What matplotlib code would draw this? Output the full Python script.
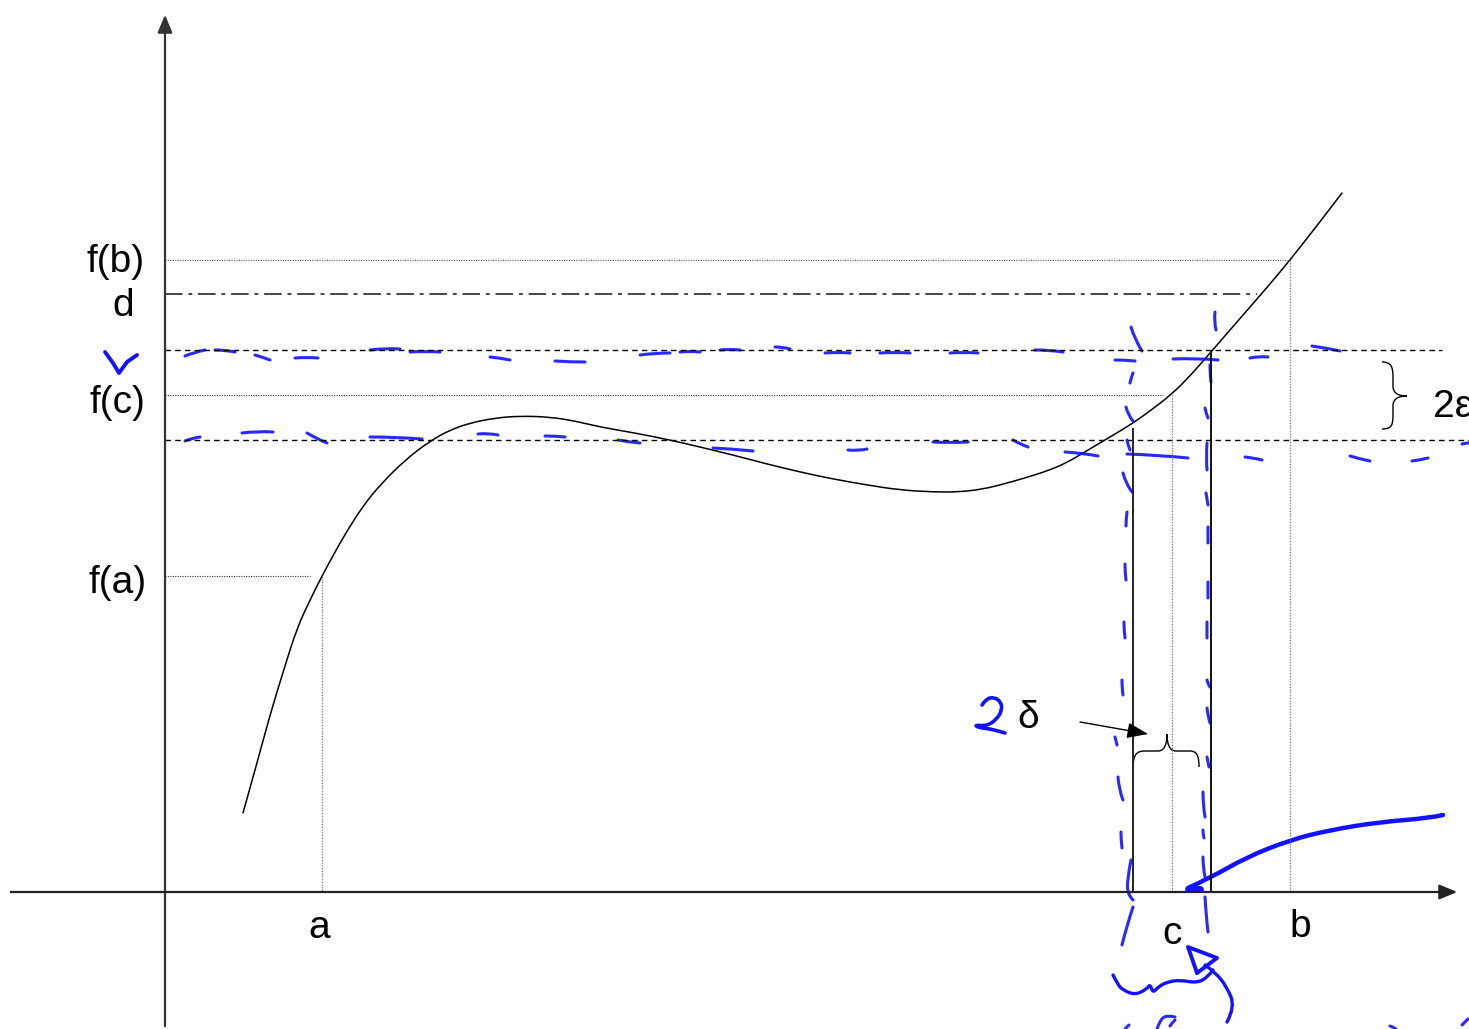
import matplotlib
matplotlib.use("Agg")
import matplotlib.pyplot as plt
from matplotlib.path import Path
from matplotlib.patches import PathPatch

plt.rcParams['font.family'] = ['Liberation Sans', 'DejaVu Sans']

# picture coordinates (pixels, y grows downwards)
W, H = 1469, 1029
x_axis_y = 892
y_axis_x = 165

# the black curve f(x)
curve_x = [243, 257, 270, 284, 297, 310, 322, 335, 347, 363, 380, 405, 430, 450, 470, 495,
           520, 550, 575, 600, 635, 670, 700, 733, 767, 800, 833, 867, 900, 933, 960, 983,
           1000, 1025, 1050, 1068, 1083, 1105, 1120, 1133, 1150, 1172, 1190, 1211, 1230, 1250,
           1270, 1290, 1316, 1342]
curve_y = [813, 763, 715, 669, 628, 600, 576, 552, 531, 506, 485, 460, 441, 430, 423, 418,
           416, 417, 421, 427, 433, 440, 447, 455, 464, 472, 479, 485, 490, 492, 492, 489,
           485, 478, 470, 462, 453, 440, 431, 423, 411, 394, 376, 352, 330, 307, 284, 260, 227, 193]

# points on the x axis and their f values
pt_names = ["a", "c", "b"]
pt_x = [322, 1172, 1290]
pt_fy = [576, 395, 260]
d_y = 294
eps_hi, eps_lo = 350, 440
delta_lo, delta_hi = 1133, 1211

y_labels = ["f(b)", "d", "f(c)", "f(a)"]
y_label_pos = [(116, 262), (123, 306), (117, 403), (118, 583)]
x_label_pos = [(319, 928), (1172, 934), (1300, 927)]

# handwritten blue strokes
blue_dash_h = [
    [(185, 356), (195, 352), (205, 350)], [(215, 350), (225, 350), (235, 352)],
    [(255, 355), (262, 357), (270, 360)], [(295, 358), (306, 357), (318, 358)],
    [(370, 350), (385, 348), (400, 349)], [(410, 352), (425, 351), (440, 352)],
    [(490, 357), (500, 358), (510, 360)], [(555, 361), (570, 362), (585, 362)],
    [(640, 355), (655, 353), (670, 353)], [(680, 352), (690, 351), (700, 352)],
    [(720, 350), (730, 349), (740, 350)], [(775, 347), (783, 347), (790, 349)],
    [(825, 353), (838, 352), (850, 353)], [(880, 353), (895, 352), (910, 353)],
    [(950, 353), (964, 352), (978, 353)], [(1035, 350), (1050, 350), (1063, 352)],
    [(1115, 360), (1125, 360), (1135, 361)], [(1173, 359), (1195, 358), (1218, 360)],
    [(1250, 358), (1260, 356), (1268, 357)], [(1312, 346), (1326, 348), (1340, 351)],
    [(185, 441), (192, 438), (200, 437)], [(242, 433), (258, 431), (273, 432)],
    [(307, 433), (317, 439), (327, 443)], [(370, 437), (396, 437), (422, 439)],
    [(478, 434), (488, 433), (498, 435)], [(545, 436), (555, 436), (565, 437)],
    [(618, 440), (629, 442), (640, 443)], [(713, 448), (733, 449), (753, 451)],
    [(848, 450), (858, 451), (867, 449)], [(933, 442), (950, 443), (968, 442)],
    [(1013, 440), (1020, 444), (1028, 447)], [(1065, 452), (1082, 453), (1098, 456)],
    [(1127, 454), (1158, 455), (1188, 458)], [(1245, 457), (1254, 458), (1262, 460)],
    [(1350, 456), (1360, 459), (1370, 461)], [(1412, 461), (1420, 460), (1428, 458)],
    [(1462, 444), (1466, 443), (1469, 443)],
]
blue_dash_v = [
    [(1131, 327), (1135, 340), (1142, 351)], [(1133, 373), (1131, 378), (1130, 383)],
    [(1126, 407), (1128, 415), (1133, 421)], [(1127, 440), (1128, 445), (1130, 450)],
    [(1123, 473), (1126, 484), (1132, 492)], [(1127, 512), (1126, 520), (1126, 526)],
    [(1125, 564), (1125, 572), (1126, 580)], [(1124, 622), (1124, 630), (1125, 638)],
    [(1122, 680), (1122, 688), (1123, 695)], [(1115, 737), (1116, 741), (1117, 745)],
    [(1118, 777), (1119, 790), (1123, 800)], [(1121, 832), (1121, 840), (1122, 848)],
    [(1131, 860), (1127, 880), (1128, 895), (1133, 900)],
    [(1133, 907), (1127, 925), (1122, 945)],
    [(1215, 312), (1214, 322), (1216, 330)], [(1210, 365), (1210, 374), (1211, 382)],
    [(1205, 408), (1206, 413), (1208, 418)], [(1207, 443), (1206, 456), (1207, 470)],
    [(1206, 493), (1207, 499), (1208, 505)], [(1208, 527), (1208, 535), (1208, 543)],
    [(1208, 582), (1208, 590), (1208, 598)], [(1207, 622), (1207, 630), (1207, 638)],
    [(1207, 680), (1208, 684), (1210, 687)], [(1207, 708), (1208, 716), (1210, 723)],
    [(1207, 757), (1208, 762), (1209, 767)], [(1203, 792), (1203, 805), (1205, 817)],
    [(1203, 830), (1203, 834), (1204, 838)], [(1203, 857), (1203, 867), (1205, 877)],
    [(1205, 897), (1206, 915), (1208, 932)],
]
blue_check = [(105, 352), (113, 363), (119, 373), (127, 362), (137, 355)]
blue_two = [(982, 705), (986, 699), (994, 697), (1001, 702), (1002, 710), (997, 719),
            (987, 726), (974, 725), (980, 728), (992, 729), (1005, 733)]
blue_swoop = [(1188, 888), (1210, 878), (1247, 857), (1290, 840), (1330, 830),
              (1380, 822), (1430, 818), (1443, 815)]
blue_squiggle = [(1113, 975), (1118, 985), (1123, 990), (1135, 995), (1147, 989),
                 (1150, 984), (1153, 993), (1158, 987), (1167, 982), (1180, 980),
                 (1197, 983), (1208, 977), (1213, 970)]
blue_arrow = [(1197, 973), (1188, 947), (1217, 958), (1197, 973)]
blue_tail = [(1205, 965), (1215, 972), (1227, 987), (1235, 1007), (1227, 1022)]
blue_bits = [[(1157, 1029), (1160, 1020), (1167, 1015), (1175, 1017)],
             [(1170, 1026), (1172, 1023), (1175, 1020)], [(1125, 1029), (1127, 1027), (1129, 1025)],
             [(1390, 1026), (1393, 1027), (1396, 1029)], [(1462, 1025), (1465, 1022), (1468, 1019)]]

BLUE = "#1212ff"


def smooth_path(pts):
    """quadratic spline through the midpoints of the given points"""
    if len(pts) == 2:
        return Path(pts, [Path.MOVETO, Path.LINETO])
    verts = [pts[0]]
    codes = [Path.MOVETO]
    for i in range(1, len(pts) - 1):
        p, q = pts[i], pts[i + 1]
        end = q if i == len(pts) - 2 else ((p[0] + q[0]) / 2, (p[1] + q[1]) / 2)
        verts += [p, end]
        codes += [Path.CURVE3, Path.CURVE3]
    return Path(verts, codes)


def draw_smooth(ax, pts, **kw):
    ax.add_patch(PathPatch(smooth_path(pts), fill=False, capstyle="round",
                           joinstyle="round", **kw))


fig = plt.figure(figsize=(W / 100, H / 100), dpi=100)
ax = fig.add_axes([0, 0, 1, 1])
ax.set_xlim(0, W)
ax.set_ylim(H, 0)
ax.axis("off")

# axes with arrows
ax.annotate("", xy=(y_axis_x, 12), xytext=(y_axis_x, H),
            arrowprops=dict(arrowstyle="-|>,head_length=0.6,head_width=0.25",
                            lw=1.6, color="#333333", mutation_scale=18))
ax.annotate("", xy=(1460, x_axis_y), xytext=(8, x_axis_y),
            arrowprops=dict(arrowstyle="-|>,head_length=0.6,head_width=0.25",
                            lw=1.6, color="#222222", mutation_scale=18))

# the function
draw_smooth(ax, list(zip(curve_x, curve_y)), edgecolor="black", lw=1.1)

# dotted guides f(a), f(c), f(b)
ax.plot([y_axis_x, 310], [pt_fy[0], pt_fy[0]], ls=(0, (1, 1.2)), color="#333333", lw=0.8)
ax.plot([y_axis_x, 1163], [pt_fy[1], pt_fy[1]], ls=(0, (1, 1.2)), color="#333333", lw=0.8)
ax.plot([y_axis_x, pt_x[2]], [pt_fy[2], pt_fy[2]], ls=(0, (1, 1.2)), color="#555555", lw=0.8)
for x, fy in zip(pt_x, pt_fy):
    ax.plot([x, x], [fy, x_axis_y], ls=(0, (1, 1.2)), color="#777777", lw=0.9)

# d level and the epsilon band
ax.plot([y_axis_x, 1257], [d_y, d_y], ls=(0, (9, 3, 2, 3)), color="#444444", lw=1.4)
ax.plot([y_axis_x, 1442], [eps_hi, eps_hi], ls=(0, (4, 3)), color="black", lw=1.0)
ax.plot([y_axis_x, W], [eps_lo, eps_lo], ls=(0, (4, 3)), color="black", lw=1.0)

# delta interval
ax.plot([delta_lo, delta_lo], [429, x_axis_y], color="#222222", lw=1.4)
ax.plot([delta_hi, delta_hi], [351, x_axis_y], color="#111111", lw=1.4)

# braces
eps_brace = [(1382, 362), (1392, 362), (1393, 368), (1393, 378), (1393, 386),
             (1393, 393), (1398, 396), (1407, 396), (1398, 396), (1393, 399), (1393, 406),
             (1393, 414), (1393, 425), (1392, 429), (1382, 429)]
brace_codes = [Path.MOVETO, Path.CURVE4, Path.CURVE4, Path.CURVE4, Path.LINETO,
               Path.CURVE4, Path.CURVE4, Path.CURVE4, Path.CURVE4, Path.CURVE4, Path.CURVE4,
               Path.LINETO, Path.CURVE4, Path.CURVE4, Path.CURVE4]
ax.add_patch(PathPatch(Path(eps_brace, brace_codes), fill=False, color="black", lw=1.0))

del_brace = [(1133, 769), (1133, 755), (1136, 751), (1145, 751), (1158, 751),
             (1164, 751), (1167, 745), (1167, 734), (1167, 745), (1170, 751), (1176, 751),
             (1190, 751), (1197, 751), (1199, 756), (1199, 767)]
ax.add_patch(PathPatch(Path(del_brace, brace_codes), fill=False, color="black", lw=1.0))

# arrow to the delta interval
ax.annotate("", xy=(1148, 734), xytext=(1080, 722),
            arrowprops=dict(arrowstyle="-|>,head_length=0.8,head_width=0.3",
                            lw=1.0, color="black", mutation_scale=16, shrinkA=0, shrinkB=0))

# labels
for txt, (x, y) in zip(y_labels, y_label_pos):
    ax.text(x, y, txt, fontsize=28, ha="center", va="center")
for txt, (x, y) in zip(pt_names, x_label_pos):
    ax.text(x, y, txt, fontsize=28, ha="center", va="center")
ax.text(1433, 407, "2ε", fontsize=28, ha="left", va="center")
ax.text(1028, 718, "δ", fontsize=28, ha="center", va="center")

# blue handwriting
for seg in blue_dash_h + blue_dash_v + blue_bits:
    draw_smooth(ax, seg, edgecolor=BLUE, lw=2.2, alpha=0.9)
for stroke, lw in [(blue_two, 2.6), (blue_swoop, 3.2),
                   (blue_squiggle, 2.4), (blue_tail, 2.4)]:
    draw_smooth(ax, stroke, edgecolor=BLUE, lw=lw)
for stroke in [blue_check, blue_arrow]:
    xs, ys = zip(*stroke)
    ax.plot(xs, ys, color=BLUE, lw=2.8, solid_capstyle="round", solid_joinstyle="round")
ax.plot([1188, 1200], [889, 889], color=BLUE, lw=5, solid_capstyle="round")

fig.savefig("out.png", dpi=100)
